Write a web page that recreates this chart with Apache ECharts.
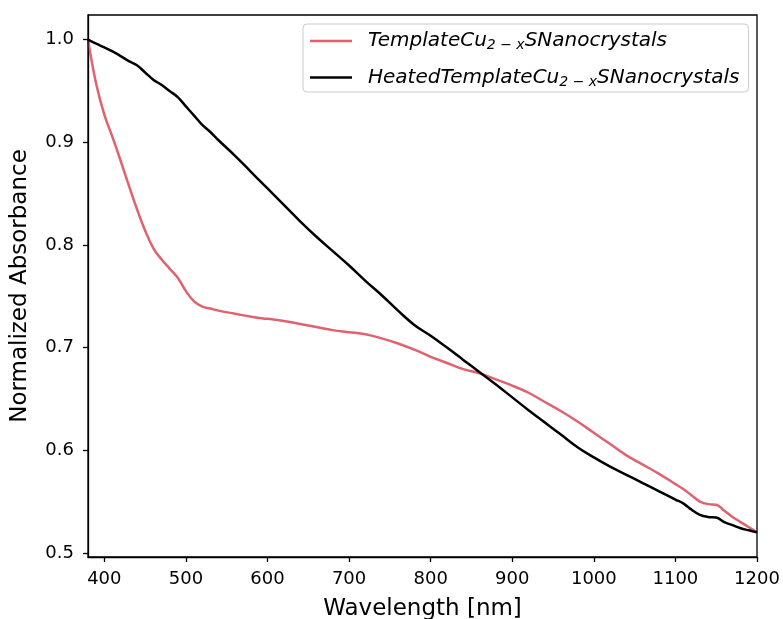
<!DOCTYPE html>
<html>
<head>
<meta charset="utf-8">
<script src="https://cdn.jsdelivr.net/npm/echarts@6/dist/echarts.min.js"></script>
<style>
  html, body { margin: 0; padding: 0; background: #fff; }
  #chart { width: 783px; height: 619px; }
</style>
</head>
<body>
<div id="chart"></div>
<script>
// Wavelength samples (nm)
const wavelength = [380, 390, 400, 410, 420, 430, 440, 450, 460, 470, 480, 490, 500, 510, 520, 530, 540,
  560, 580, 600, 620, 640, 660, 680, 700, 720, 740, 760, 780, 800, 820, 840, 860, 880, 900, 920, 940,
  960, 980, 1000, 1020, 1040, 1060, 1080, 1100, 1110, 1120, 1130, 1140, 1150, 1160, 1170, 1180, 1190, 1200];

// Normalized absorbance, template Cu(2-x)S nanocrystals
const templateAbs = [1.000, 0.957, 0.927, 0.905, 0.882, 0.858, 0.835, 0.814, 0.797, 0.786, 0.777, 0.768,
  0.755, 0.745, 0.740, 0.738, 0.736, 0.733, 0.730, 0.728, 0.726, 0.723, 0.720, 0.717, 0.715, 0.713, 0.709,
  0.704, 0.698, 0.691, 0.685, 0.679, 0.675, 0.669, 0.663, 0.656, 0.647, 0.638, 0.628, 0.617, 0.606, 0.595,
  0.586, 0.577, 0.567, 0.562, 0.556, 0.550, 0.5475, 0.547, 0.541, 0.535, 0.530, 0.525, 0.520];

// Normalized absorbance, heated template Cu(2-x)S nanocrystals
const heatedAbs = [1.000, 0.996, 0.9925, 0.9885, 0.984, 0.979, 0.975, 0.968, 0.961, 0.956, 0.950, 0.944,
  0.935, 0.926, 0.917, 0.910, 0.902, 0.887, 0.871, 0.855, 0.839, 0.823, 0.808, 0.794, 0.780, 0.765, 0.751,
  0.736, 0.722, 0.7115, 0.700, 0.688, 0.676, 0.664, 0.6515, 0.639, 0.627, 0.615, 0.603, 0.593, 0.584, 0.576,
  0.568, 0.560, 0.552, 0.548, 0.542, 0.537, 0.535, 0.5345, 0.530, 0.527, 0.524, 0.522, 0.520];

const xTicks = [400, 500, 600, 700, 800, 900, 1000, 1100, 1200];
const yTicks = [0.5, 0.6, 0.7, 0.8, 0.9, 1.0];

const seriesNames = ['Template', 'Heated'];
const seriesColors = ['#e0626e', '#000000'];

const FONT = 'DejaVu Sans';

function pairs(xs, ys) { return xs.map((x, i) => [x, ys[i]]); }

const chart = echarts.init(document.getElementById('chart'), null, { renderer: 'canvas' });

chart.setOption({
  backgroundColor: '#ffffff',
  animation: false,
  grid: { left: 88, right: 26, top: 15, bottom: 62, containLabel: false, outerBoundsMode: 'none' },
  legend: {
    orient: 'vertical',
    left: 303,
    top: 24,
    padding: [7, 9, 3, 7],
    itemGap: 15,
    itemWidth: 42,
    itemHeight: 14,
    borderColor: '#cccccc',
    borderWidth: 1,
    borderRadius: 4,
    backgroundColor: 'rgba(255,255,255,0.8)',
    icon: 'path://M0,0 L42,0 L42,2.5 L0,2.5 Z',
    data: seriesNames,
    formatter: function (name) {
      const prefix = name === 'Heated' ? 'HeatedTemplateCu' : 'TemplateCu';
      return '{i|' + prefix + '}{s|2 − x}{i|SNanocrystals}';
    },
    textStyle: {
      fontFamily: FONT,
      color: '#000',
      padding: [0, 0, 0, 11],
      rich: {
        i: { fontFamily: FONT, fontStyle: 'italic', fontSize: 20, lineHeight: 23, color: '#000' },
        s: { fontFamily: FONT, fontStyle: 'italic', fontSize: 14, lineHeight: 14, verticalAlign: 'bottom', color: '#000' }
      }
    }
  },
  xAxis: {
    type: 'value',
    min: 380,
    max: 1200,
    interval: 100,
    name: 'Wavelength [nm]',
    nameLocation: 'middle',
    nameGap: 41,
    nameTextStyle: { fontFamily: FONT, fontSize: 23, color: '#000' },
    axisLine: { show: true, onZero: false, lineStyle: { color: '#000', width: 1.3 } },
    axisTick: { show: true, length: 5, inside: false, lineStyle: { color: '#000', width: 1.3 },
      customValues: xTicks },
    axisLabel: { fontFamily: FONT, fontSize: 18, color: '#000', margin: 13,
      customValues: xTicks, formatter: v => String(v) },
    splitLine: { show: false }
  },
  yAxis: {
    type: 'value',
    min: 0.496,
    max: 1.024,
    name: 'Normalized Absorbance',
    nameLocation: 'middle',
    nameGap: 56,
    nameRotate: 90,
    nameTextStyle: { fontFamily: FONT, fontSize: 23, color: '#000' },
    axisLine: { show: true, onZero: false, lineStyle: { color: '#000', width: 1.3 } },
    axisTick: { show: true, length: 5, inside: false, lineStyle: { color: '#000', width: 1.3 },
      customValues: yTicks },
    axisLabel: { fontFamily: FONT, fontSize: 18, color: '#000', margin: 14,
      customValues: yTicks, formatter: v => v.toFixed(1) },
    splitLine: { show: false }
  },
  series: [
    {
      name: seriesNames[0],
      type: 'line',
      data: pairs(wavelength, templateAbs),
      showSymbol: false,
      smooth: 0.4,
      lineStyle: { color: seriesColors[0], width: 2.5 },
      itemStyle: { color: seriesColors[0] },
      z: 2
    },
    {
      name: seriesNames[1],
      type: 'line',
      data: pairs(wavelength, heatedAbs),
      showSymbol: false,
      smooth: 0.4,
      lineStyle: { color: seriesColors[1], width: 2.5 },
      itemStyle: { color: seriesColors[1] },
      z: 3
    }
  ],
  graphic: [
    // frame around the plotting area
    {
      type: 'rect',
      shape: { x: 88, y: 15, width: 669, height: 542 },
      style: { fill: 'none', stroke: '#000', lineWidth: 1.3 },
      silent: true,
      z: 10
    }
  ]
});
</script>
</body>
</html>
